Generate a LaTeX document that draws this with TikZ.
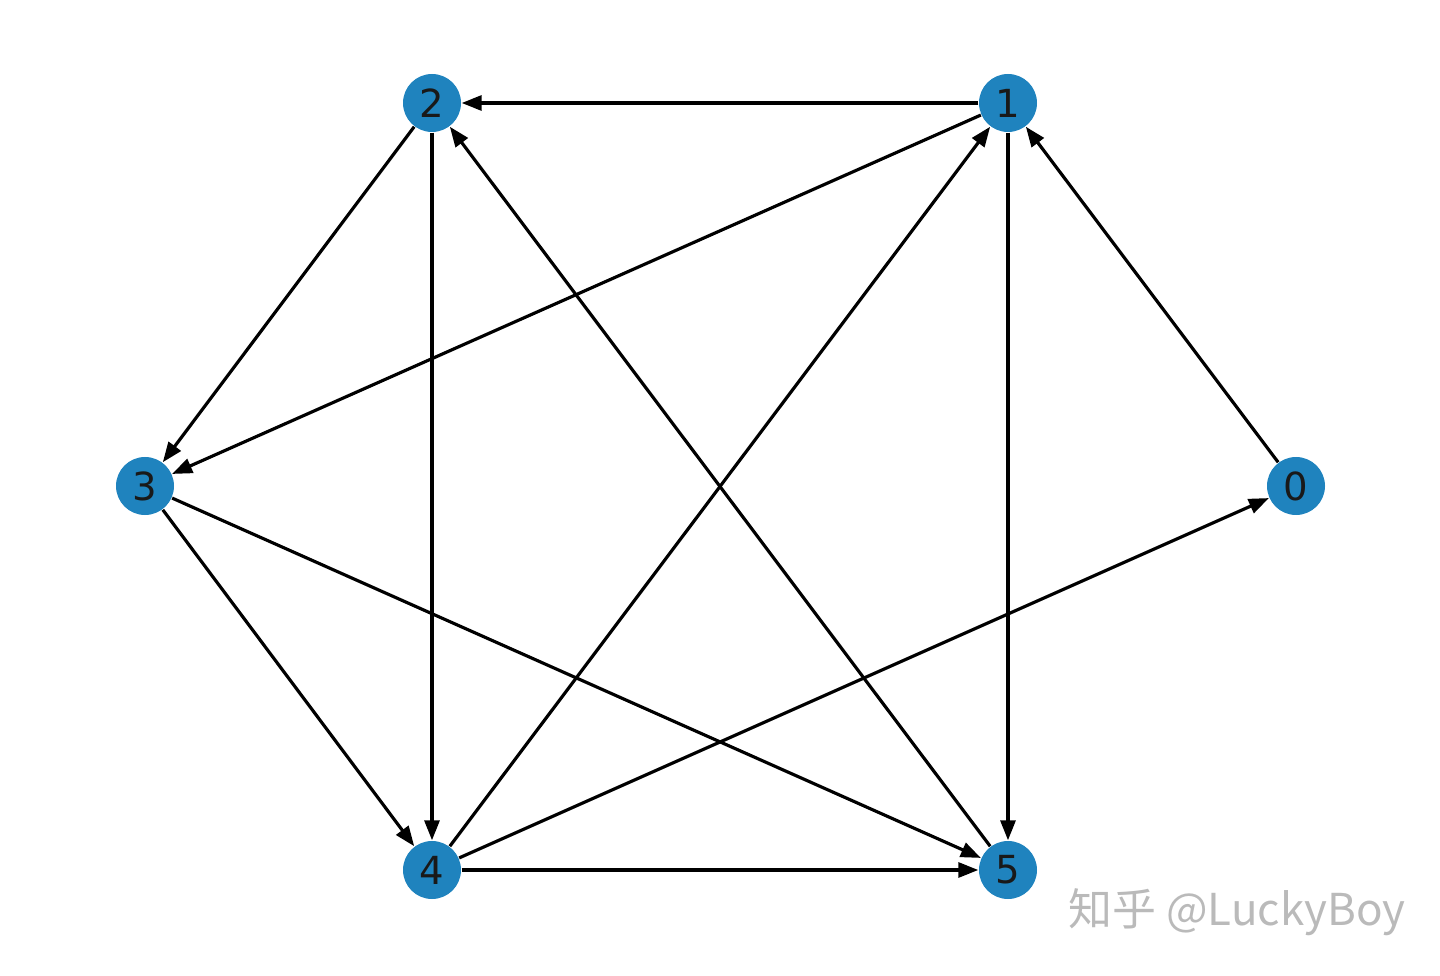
\documentclass[tikz,border=0pt]{standalone}
\usepackage{fontspec}
\setmainfont{DejaVu Sans}
\newfontfamily\cjk{Noto Sans CJK SC}
\usetikzlibrary{arrows.meta}
\definecolor{nodeblue}{HTML}{1F83BE}
\tikzstyle{vertex} = [circle, minimum size=.58cm, inner sep=0pt, fill=nodeblue, text=black!90, font=\fontsize{11}{12}\selectfont]
\tikzstyle{edge} = [-{Triangle[length=.2cm,width=.15cm]}, line width=.9pt, black, shorten >=0pt]

\begin{document}
\begin{tikzpicture}%
	\useasboundingbox (0,0) rectangle (14.4,9.75);%
	\node [vertex] (n0) at (12.96,4.89) {0};%
	\node [vertex] (n1) at (10.08,8.72) {1};%
	\node [vertex] (n2) at (4.32,8.72) {2};%
	\node [vertex] (n3) at (1.45,4.89) {3};%
	\node [vertex] (n4) at (4.32,1.05) {4};%
	\node [vertex] (n5) at (10.08,1.05) {5};%
	\foreach \a/\b in {1/2, 1/3, 1/5, 0/1, 2/3, 2/4, 3/4, 3/5, 4/1, 4/0, 4/5, 5/2}%
		\draw [edge] (n\a) -- (n\b);%
	\node [text=black!27, font=\cjk\fontsize{12.5}{14}\selectfont] (mark) at (12.37,0.63) {知乎 @LuckyBoy};%
\end{tikzpicture}
\end{document}
